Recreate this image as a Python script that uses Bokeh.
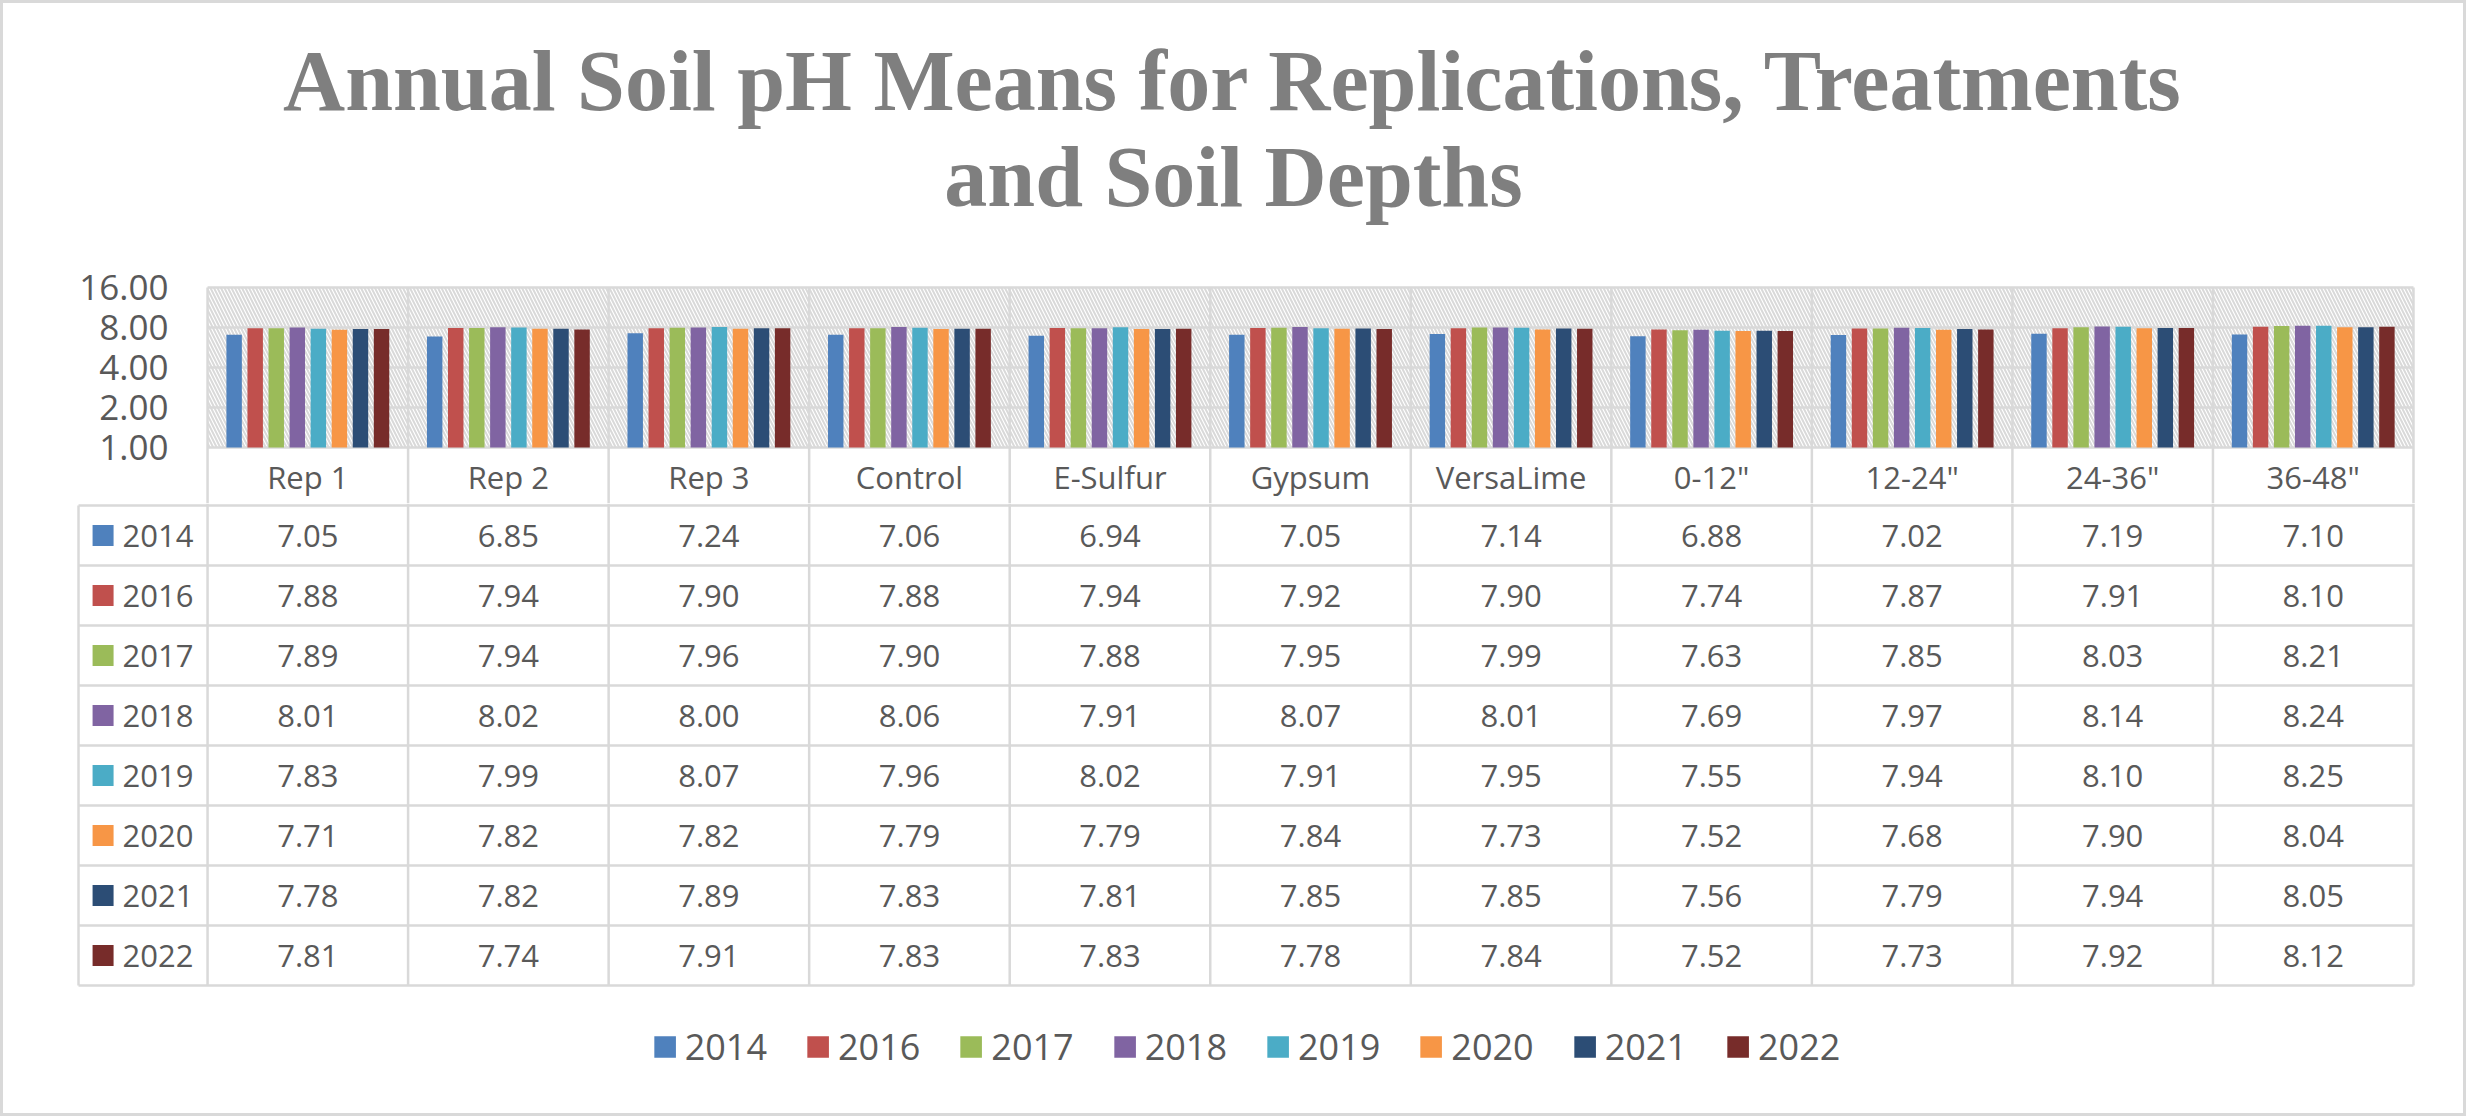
from bokeh.plotting import figure
from bokeh.models import Range1d, FixedTicker, PrintfTickFormatter, Legend, LegendItem
from bokeh.layouts import column
from bokeh.core.properties import value
from bokeh.embed import file_html
from bokeh.resources import INLINE

# ---------------- data ----------------
TITLE_LINES = ["Annual Soil pH Means for Replications, Treatments", "and Soil Depths"]
CATEGORIES = ["Rep 1", "Rep 2", "Rep 3", "Control", "E-Sulfur", "Gypsum", "VersaLime",
              '0-12"', '12-24"', '24-36"', '36-48"']
YEARS = ["2014", "2016", "2017", "2018", "2019", "2020", "2021", "2022"]
PH_2014 = [7.05, 6.85, 7.24, 7.06, 6.94, 7.05, 7.14, 6.88, 7.02, 7.19, 7.10]
PH_2016 = [7.88, 7.94, 7.90, 7.88, 7.94, 7.92, 7.90, 7.74, 7.87, 7.91, 8.10]
PH_2017 = [7.89, 7.94, 7.96, 7.90, 7.88, 7.95, 7.99, 7.63, 7.85, 8.03, 8.21]
PH_2018 = [8.01, 8.02, 8.00, 8.06, 7.91, 8.07, 8.01, 7.69, 7.97, 8.14, 8.24]
PH_2019 = [7.83, 7.99, 8.07, 7.96, 8.02, 7.91, 7.95, 7.55, 7.94, 8.10, 8.25]
PH_2020 = [7.71, 7.82, 7.82, 7.79, 7.79, 7.84, 7.73, 7.52, 7.68, 7.90, 8.04]
PH_2021 = [7.78, 7.82, 7.89, 7.83, 7.81, 7.85, 7.85, 7.56, 7.79, 7.94, 8.05]
PH_2022 = [7.81, 7.74, 7.91, 7.83, 7.83, 7.78, 7.84, 7.52, 7.73, 7.92, 8.12]
Y_TICKS = [1, 2, 4, 8, 16]
COLORS = ["#4F81BD", "#C0504D", "#9BBB59", "#8064A2", "#4BACC6", "#F79646", "#2C4D75", "#772C2A"]

SERIES = [PH_2014, PH_2016, PH_2017, PH_2018, PH_2019, PH_2020, PH_2021, PH_2022]

# ---------------- style / layout ----------------
W = 2466
TEXT = "#595959"
GRID = "#d9d9d9"
LW = 2.5
FONT = "Open Sans"
N = len(CATEGORIES)
R = len(YEARS)

BORDER_L = 74        # all frames share the same left/right borders
BORDER_R = 49
OCT_PX = 40          # pixels per doubling on the log axis
HEADER_PX = 58       # height of the category-label row
ROW_PX = 60          # height of a data-table row
PAD_PX = 2
PAD_X = 0.02         # category units
LEFT_W = 0.6435      # width of the year column, category units
PAD_Y = PAD_PX / ROW_PX
BAR_STEP = 0.105
BAR_W = 0.077

TH, CH, BH = 250, 253, 613   # heights of the three stacked figures


def bare(p):
    p.outline_line_color = None
    p.background_fill_color = None
    p.border_fill_color = None
    p.grid.visible = False
    return p


common = dict(width=W, toolbar_location=None, output_backend="svg",
              min_border_left=BORDER_L, min_border_right=BORDER_R)

# ---------------- title ----------------
title_fig = bare(figure(height=TH, x_range=Range1d(BORDER_L, W - BORDER_R), y_range=Range1d(TH, 0),
                        x_axis_location=None, y_axis_location=None,
                        min_border_top=0, min_border_bottom=0, **common))
title_fig.text(x=[1233, 1233], y=[80, 176], text=TITLE_LINES,
               text_align="center", text_baseline="alphabetic",
               text_font=value("Liberation Serif"), text_font_style="bold",
               text_font_size="86px", text_color="#7f7f7f")

# ---------------- chart ----------------
y_lo = Y_TICKS[0] / 2 ** ((HEADER_PX - PAD_PX) / OCT_PX)
y_hi = Y_TICKS[-1] * 2 ** (PAD_PX / OCT_PX)
label_y = Y_TICKS[0] / 2 ** ((HEADER_PX / 2) / OCT_PX)

chart = bare(figure(height=CH, x_range=Range1d(-LEFT_W - PAD_X, N + PAD_X),
                    y_range=Range1d(y_lo, y_hi), y_axis_type="log", x_axis_location=None,
                    min_border_top=35, min_border_bottom=0, **common))

# hatched plot area
chart.quad(left=[0], right=[N], bottom=[Y_TICKS[0]], top=[Y_TICKS[-1]],
           fill_alpha=0, line_color=None, hatch_pattern="\\", hatch_color=GRID,
           hatch_weight=2, hatch_scale=7)
# grid lines
chart.segment(x0=0, x1=N, y0=Y_TICKS, y1=Y_TICKS, line_color=GRID, line_width=LW)
bounds = list(range(N + 1))
chart.segment(x0=bounds, x1=bounds, y0=y_lo, y1=Y_TICKS[-1], line_color=GRID, line_width=LW)

# bars
for i, (vals, col) in enumerate(zip(SERIES, COLORS)):
    off = (i - (len(SERIES) - 1) / 2) * BAR_STEP
    xs = [j + 0.5 + off for j in range(N)]
    chart.vbar(x=xs, top=vals, bottom=Y_TICKS[0], width=BAR_W, fill_color=col, line_color=None)

# category labels (header row of the data table)
chart.text(x=[j + 0.5 for j in range(N)], y=label_y, text=CATEGORIES,
           text_align="center", text_baseline="middle", text_font=value(FONT),
           text_font_size="31px", text_color=TEXT)

ax = chart.yaxis[0]
ax.ticker = FixedTicker(ticks=Y_TICKS)
ax.formatter = PrintfTickFormatter(format="%.2f")
ax.axis_line_color = None
ax.major_tick_line_color = None
ax.minor_tick_line_color = None
ax.major_tick_in = 0
ax.major_tick_out = 0
ax.minor_tick_in = 0
ax.minor_tick_out = 0
ax.major_label_standoff = -94          # labels sit over the year column, right edge at x=168
ax.major_label_text_font = FONT
ax.major_label_text_font_size = "35px"
ax.major_label_text_color = TEXT

# ---------------- data table + legend ----------------
table = bare(figure(height=BH, x_range=Range1d(-LEFT_W - PAD_X, N + PAD_X),
                    y_range=Range1d(BH / ROW_PX - PAD_Y, -PAD_Y),
                    x_axis_location=None, y_axis_location=None,
                    min_border_top=0, min_border_bottom=0, **common))
rows = list(range(R + 1))
table.segment(x0=-LEFT_W, x1=N, y0=rows, y1=rows, line_color=GRID, line_width=LW)
table.segment(x0=[-LEFT_W], x1=[-LEFT_W], y0=[0], y1=[R], line_color=GRID, line_width=LW)
table.segment(x0=bounds, x1=bounds, y0=-PAD_Y, y1=R, line_color=GRID, line_width=LW)

items = []
for r, (yr, col) in enumerate(zip(YEARS, COLORS)):
    sq = table.rect(x=[-0.521], y=[r + 0.5], width=21, height=21,
                    width_units="screen", height_units="screen",
                    fill_color=col, line_color=None)
    items.append(LegendItem(label=yr, renderers=[sq]))

ry = [r + 0.5 for r in range(R)]
table.text(x=-0.424, y=ry, text=YEARS, text_align="left", text_baseline="middle",
           text_font=value(FONT), text_font_size="31px", text_color=TEXT)

cx, cy, ct = [], [], []
for r, vals in enumerate(SERIES):
    for j, v in enumerate(vals):
        cx.append(j + 0.5)
        cy.append(r + 0.5)
        ct.append(f"{v:.2f}")
table.text(x=cx, y=cy, text=ct, text_align="center", text_baseline="middle",
           text_font=value(FONT), text_font_size="31px", text_color=TEXT)

legend = Legend(items=items, orientation="horizontal", location="bottom_center",
                glyph_width=27, glyph_height=27, label_standoff=7, spacing=37,
                padding=0, margin=45, border_line_color=None, background_fill_alpha=0,
                label_text_font=FONT, label_text_font_size="36px", label_text_color=TEXT)
table.add_layout(legend, "center")

layout = column(title_fig, chart, table, spacing=0,
                styles={"background-color": "white",
                        "box-shadow": "inset 0 0 0 3px #d9d9d9"})

open("out.html", "w").write(file_html(layout, INLINE))
